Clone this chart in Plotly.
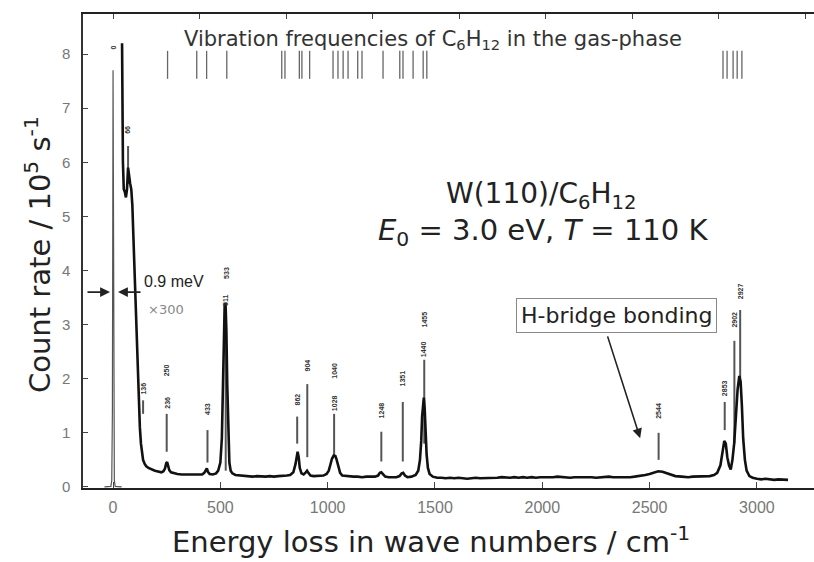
import plotly.graph_objects as go

# ---------------- data ----------------
# x300 loss spectrum (cm^-1, count rate / 1e5 s^-1)
spec_cm = [42, 44, 46, 50, 55, 60, 65, 70, 75, 80, 85, 90, 95, 100, 105, 110, 115, 120, 125, 130,
           135, 140, 148, 155, 165, 175, 185, 195, 205, 215, 225, 235, 242, 248, 252, 256, 262, 270,
           285, 300, 320, 340, 360, 380, 400, 415, 425, 432, 437, 442, 450, 465, 480, 490, 500, 507,
           512, 516, 520, 524, 528, 532, 537, 542, 548, 556, 570, 590, 610, 630, 650, 670, 690, 710,
           730, 750, 770, 790, 810, 825, 840, 850, 856, 860, 865, 870, 878, 888, 898, 904, 910, 920,
           935, 950, 965, 980, 995, 1005, 1012, 1020, 1028, 1036, 1042, 1050, 1058, 1068, 1085, 1100,
           1120, 1140, 1160, 1180, 1200, 1220, 1235, 1243, 1250, 1258, 1268, 1285, 1300, 1320, 1335,
           1345, 1352, 1360, 1372, 1390, 1410, 1422, 1430, 1436, 1440, 1444, 1448, 1452, 1456, 1461,
           1467, 1475, 1490, 1510, 1530, 1550, 1570, 1590, 1610, 1630, 1650, 1670, 1690, 1710, 1730,
           1750, 1770, 1790, 1810, 1830, 1850, 1870, 1890, 1910, 1930, 1950, 1970, 1990, 2010, 2030,
           2050, 2070, 2090, 2110, 2130, 2150, 2170, 2190, 2210, 2230, 2250, 2270, 2290, 2310, 2330,
           2350, 2370, 2390, 2410, 2430, 2450, 2480, 2500, 2520, 2540, 2560, 2580, 2600, 2620, 2650,
           2680, 2700, 2720, 2740, 2760, 2780, 2800, 2815, 2830, 2840, 2848, 2855, 2862, 2870, 2878,
           2886, 2894, 2902, 2910, 2918, 2924, 2930, 2936, 2944, 2952, 2965, 2980, 3000, 3020, 3040,
           3060, 3080, 3100, 3120, 3145]
spec_val = [8.2, 7.0, 6.0, 5.5, 5.45, 5.35, 5.5, 5.9, 5.7, 5.6, 5.5, 5.2, 4.6, 4.0, 3.3, 2.6, 2.0, 1.5, 1.1, 0.8,
            0.6, 0.5, 0.42, 0.38, 0.35, 0.33, 0.31, 0.30, 0.29, 0.28, 0.27, 0.29, 0.34, 0.44, 0.46, 0.40, 0.31, 0.27,
            0.25, 0.24, 0.23, 0.23, 0.22, 0.22, 0.22, 0.23, 0.26, 0.32, 0.34, 0.28, 0.24, 0.23, 0.25, 0.30, 0.45, 0.9,
            1.8, 2.8, 3.35, 3.4, 2.9, 1.9, 0.9, 0.45, 0.30, 0.25, 0.22, 0.21, 0.20, 0.20, 0.19, 0.20, 0.19, 0.19,
            0.20, 0.19, 0.20, 0.20, 0.21, 0.22, 0.27, 0.42, 0.60, 0.65, 0.55, 0.35, 0.25, 0.23, 0.27, 0.30, 0.26, 0.21,
            0.20, 0.20, 0.20, 0.21, 0.24, 0.30, 0.40, 0.52, 0.58, 0.57, 0.50, 0.36, 0.26, 0.21, 0.20, 0.19,
            0.19, 0.19, 0.18, 0.19, 0.19, 0.19, 0.21, 0.26, 0.27, 0.23, 0.19, 0.18, 0.18, 0.18, 0.20,
            0.25, 0.26, 0.21, 0.18, 0.19, 0.22, 0.30, 0.50, 0.85, 1.3, 1.6, 1.65, 1.45, 1.0, 0.6,
            0.35, 0.24, 0.19, 0.17, 0.17, 0.16, 0.17, 0.16, 0.17, 0.16, 0.15, 0.16, 0.17, 0.16, 0.16,
            0.17, 0.16, 0.17, 0.18, 0.17, 0.17, 0.18, 0.17, 0.18, 0.17, 0.18, 0.17, 0.18, 0.18, 0.17,
            0.18, 0.19, 0.18, 0.18, 0.17, 0.18, 0.18, 0.19, 0.18, 0.18, 0.17, 0.18, 0.18, 0.19, 0.18,
            0.18, 0.17, 0.18, 0.18, 0.19, 0.20, 0.22, 0.24, 0.27, 0.29, 0.28, 0.25, 0.22, 0.20, 0.19,
            0.18, 0.19, 0.19, 0.20, 0.20, 0.20, 0.22, 0.26, 0.40, 0.65, 0.85, 0.80, 0.55, 0.40, 0.32,
            0.50, 0.80, 1.3, 1.8, 2.05, 1.95, 1.5, 0.9, 0.5, 0.30, 0.20, 0.17, 0.15, 0.14, 0.15,
            0.14, 0.13, 0.14, 0.13, 0.13]

# elastic peak (x1)
elastic_cm = [-40, -10, -6, -3, 0, 3, 6, 10, 40]
elastic_val = [0.0, 0.01, 0.12, 1.4, 7.7, 1.4, 0.12, 0.01, 0.0]

# gas-phase vibration frequencies of C6H12 (cm^-1)
gas_freq = [254, 390, 436, 530, 786, 801, 868, 880, 916, 1025, 1048, 1072, 1095, 1140, 1160,
            1258, 1336, 1351, 1398, 1445, 1462, 2842, 2861, 2889, 2908, 2930]
gas_row = 7.8

# marked loss peaks: drop lines
line_x = [70, 140, 250, 440, 525, 858, 905, 1030, 1250, 1350, 1450, 2542, 2850, 2895, 2922]
line_lo = [5.6, 1.35, 0.65, 0.45, 0.30, 0.80, 0.55, 0.57, 0.47, 0.47, 0.80, 0.50, 1.05, 0.80, 2.00]
line_hi = [6.3, 1.60, 1.35, 1.05, 3.00, 1.30, 1.90, 1.35, 1.02, 1.57, 2.35, 1.00, 1.57, 2.70, 3.27]

# labels of marked peaks
lab_x = [70, 0, 140, 250, 250, 440, 525, 525, 858, 905, 1030, 1030, 1250, 1350, 1450, 1450,
         2542, 2850, 2895, 2922]
lab_y = [6.6, 8.12, 1.82, 1.55, 2.15, 1.45, 3.45, 3.95, 1.62, 2.25, 1.55, 2.15, 1.42, 2.0,
         2.55, 3.1, 1.4, 1.82, 3.1, 3.62]
lab_text = ["66", "0", "136", "236", "250", "433", "511", "533", "862", "904", "1028", "1040",
            "1248", "1351", "1440", "1455", "2544", "2853", "2902", "2927"]

x_ticks = [0, 500, 1000, 1500, 2000, 2500, 3000]
y_ticks = [0, 1, 2, 3, 4, 5, 6, 7, 8]
x_range = [-140, 3266]
y_range = [-0.02, 8.74]
CM_PER_MEV = 8.0655

FONT = "Liberation Sans, Arial, sans-serif"
WIDE = "DejaVu Sans, Liberation Sans, sans-serif"

# ---------------- figure ----------------
fig = go.Figure()

fig.add_trace(go.Scatter(x=elastic_cm, y=elastic_val, mode="lines",
                         line=dict(color="#555555", width=1.2), hoverinfo="skip"))

# drop lines built from arrays
dl_x, dl_y = [], []
for xx, lo, hi in zip(line_x, line_lo, line_hi):
    dl_x += [xx, xx, None]
    dl_y += [lo, hi, None]
fig.add_trace(go.Scatter(x=dl_x, y=dl_y, mode="lines",
                         line=dict(color="#555555", width=2), hoverinfo="skip"))

fig.add_trace(go.Scatter(x=spec_cm, y=spec_val, mode="lines",
                         line=dict(color="#111111", width=2.6), hoverinfo="skip"))

fig.add_trace(go.Scatter(x=gas_freq, y=[gas_row] * len(gas_freq), mode="markers",
                         marker=dict(symbol="line-ns", size=20,
                                     line=dict(color="#666666", width=1.3)),
                         hoverinfo="skip"))

# dummy trace for meV top axis
fig.add_trace(go.Scatter(x=[0], y=[0], xaxis="x2", mode="markers",
                         marker=dict(opacity=0), hoverinfo="skip"))

annotations = []
for xx, yy, tt in zip(lab_x, lab_y, lab_text):
    annotations.append(dict(x=xx, y=yy, xref="x", yref="y", text="<b>" + tt + "</b>",
                            textangle=-90, showarrow=False, xanchor="center", yanchor="middle",
                            font=dict(family=FONT, size=7, color="#333333")))

def px(xp):
    return (xp - 83) / 731.0

def py(yp):
    return (488 - yp) / 474.0

C = dict(xanchor="center", yanchor="middle", showarrow=False)

annotations += [
    dict(x=px(433), y=py(40), xref="paper", yref="paper",
         text="Vibration frequencies of C<sub>6</sub>H<sub>12</sub> in the gas-phase",
         font=dict(family=WIDE, size=21, color="#333333"), **C),
    dict(x=px(541), y=py(195), xref="paper", yref="paper",
         text="W(110)/C<sub>6</sub>H<sub>12</sub>",
         font=dict(family=WIDE, size=28, color="#222222"), **C),
    dict(x=px(543), y=py(232), xref="paper", yref="paper",
         text="<i>E</i><sub>0</sub> = 3.0 eV, <i>T</i> = 110 K",
         font=dict(family=WIDE, size=29, color="#222222"), **C),
    dict(x=px(616), y=py(315), xref="paper", yref="paper",
         text="H-bridge bonding", bordercolor="#888888", borderwidth=1, borderpad=4,
         bgcolor="white", font=dict(family=WIDE, size=22, color="#222222"), **C),
    dict(x=2456, y=0.9, ax=2302, ay=2.81, xref="x", yref="y", axref="x", ayref="y",
         showarrow=True, arrowhead=2, arrowsize=1.2, arrowwidth=1.6, arrowcolor="#222222", text=""),
    dict(x=-14, y=3.6, ax=-126, ay=3.6, xref="x", yref="y", axref="x", ayref="y",
         showarrow=True, arrowhead=2, arrowsize=1.1, arrowwidth=1.8, arrowcolor="#222222", text=""),
    dict(x=23, y=3.6, ax=135, ay=3.6, xref="x", yref="y", axref="x", ayref="y",
         showarrow=True, arrowhead=2, arrowsize=1.1, arrowwidth=1.8, arrowcolor="#222222", text=""),
    dict(x=284, y=3.79, xref="x", yref="y", text="0.9 meV",
         font=dict(family=FONT, size=16, color="#222222"), **C),
    dict(x=249, y=3.27, xref="x", yref="y", text="\u00d7300",
         font=dict(family=WIDE, size=13, color="#888888"), **C),
    dict(x=px(38), y=py(255), xref="paper", yref="paper", textangle=-90,
         text="Count rate / 10<sup>5</sup> s<sup>-1</sup>",
         font=dict(family=WIDE, size=29, color="#222222"), **C),
    dict(x=px(431), y=py(540), xref="paper", yref="paper",
         text="Energy loss in wave numbers / cm<sup>-1</sup>",
         font=dict(family=WIDE, size=29, color="#222222"), **C),
]

fig.update_layout(
    width=814, height=562,
    margin=dict(l=83, r=0, t=14, b=74),
    paper_bgcolor="white", plot_bgcolor="white",
    showlegend=False,
    annotations=annotations,
    xaxis=dict(range=x_range, tickvals=x_ticks, ticks="inside", ticklen=6, tickcolor="#444444",
               showline=True, linecolor="#222222", linewidth=2, showgrid=False, zeroline=False,
               tickfont=dict(family=FONT, size=16, color="#777777"), ticklabelstandoff=4),
    xaxis2=dict(range=[x_range[0] / CM_PER_MEV, x_range[1] / CM_PER_MEV], overlaying="x",
                side="top", tick0=0, dtick=50, ticks="inside", ticklen=5, tickcolor="#444444",
                showticklabels=False, showline=True, linecolor="#222222", linewidth=2,
                showgrid=False, zeroline=False),
    yaxis=dict(range=y_range, tickvals=y_ticks, ticks="inside", ticklen=5, tickcolor="#444444",
               showline=True, linecolor="#333333", linewidth=1.5, showgrid=False, zeroline=False,
               tickfont=dict(family=FONT, size=15, color="#777777"), ticklabelstandoff=8),
)

fig.write_html("out.html")
